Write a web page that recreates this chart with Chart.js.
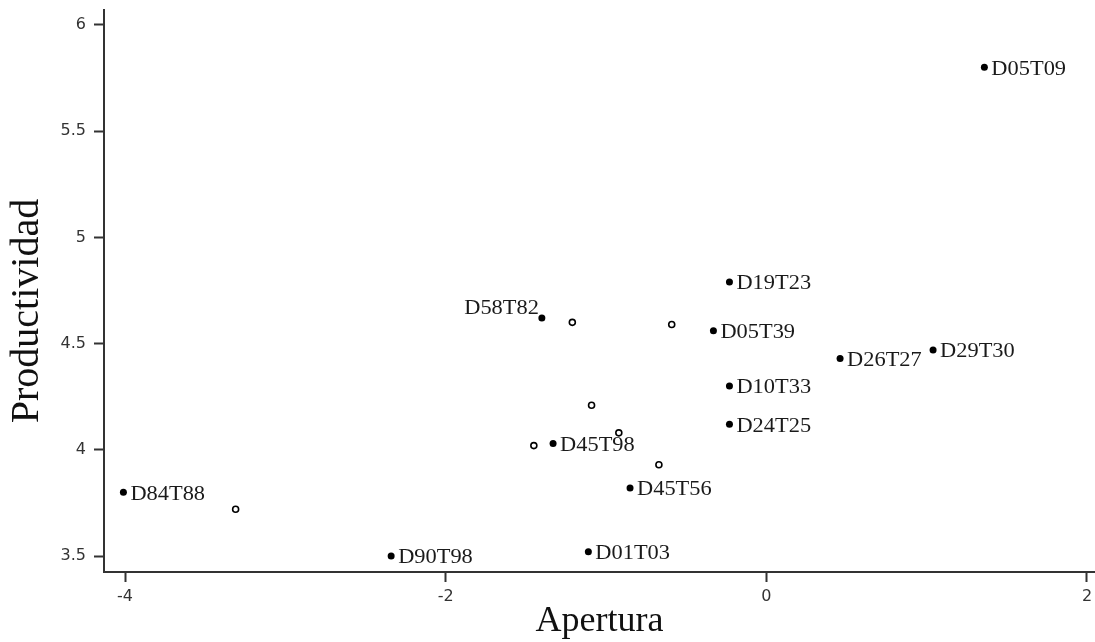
<!DOCTYPE html>
<html lang="es">
<head>
  <meta charset="UTF-8" />
  <title>Productividad vs Apertura</title>
  <script src="https://cdn.jsdelivr.net/npm/chart.js"></script>
  <style>
    html, body { margin: 0; padding: 0; background: #fff; }
    canvas { display: block; }
  </style>
</head>
<body>
  <canvas id="chart" width="1095" height="642"></canvas>

  <script>
    // labelled districts (filled dots)
    const labeledNames = ['D05T09', 'D19T23', 'D58T82', 'D05T39', 'D29T30', 'D26T27', 'D10T33', 'D24T25', 'D45T98', 'D45T56', 'D84T88', 'D01T03', 'D90T98']
    const labeledX = [1.36, -0.23, -1.40, -0.33, 1.04, 0.46, -0.23, -0.23, -1.33, -0.85, -4.01, -1.11, -2.34]
    const labeledY = [5.80, 4.79, 4.62, 4.56, 4.47, 4.43, 4.30, 4.12, 4.03, 3.82, 3.80, 3.52, 3.50]

    // unlabelled districts (hollow circles)
    const otherX = [-1.21, -0.59, -1.09, -0.92, -1.45, -0.67, -3.31]
    const otherY = [4.60, 4.59, 4.21, 4.08, 4.02, 3.93, 3.72]

    const xTicks = [-4, -2, 0, 2]
    const yTicks = [3.5, 4, 4.5, 5, 5.5, 6]

    const xTitle = 'Apertura'
    const yTitle = 'Productividad'

    // labels drawn on the left/top of their marker instead of the right
    const leftLabels = ['D58T82']

    const tickFont = { family: '"DejaVu Sans", Verdana, sans-serif', size: 16 }
    const serif = '"Liberation Serif", "Times New Roman", serif'

    const pointLabels = {
      id: 'pointLabels',
      afterDatasetsDraw(chart) {
        const ctx = chart.ctx
        const meta = chart.getDatasetMeta(0)
        const stretch = 1.12
        ctx.save()
        ctx.font = '20px ' + serif
        ctx.fillStyle = '#1a1a1a'
        ctx.textBaseline = 'middle'
        meta.data.forEach((pt, i) => {
          const name = labeledNames[i]
          ctx.save()
          ctx.translate(pt.x, pt.y)
          ctx.scale(stretch, 1)
          if (leftLabels.includes(name)) {
            ctx.textAlign = 'right'
            ctx.fillText(name, -3 / stretch, -9)
          } else {
            ctx.textAlign = 'left'
            ctx.fillText(name, 7 / stretch, 2)
          }
          ctx.restore()
        })

        // y axis title, sits a bit below the middle of the plot like the original
        ctx.font = '40px ' + serif
        ctx.fillStyle = '#111'
        ctx.textAlign = 'center'
        ctx.translate(27, 311)
        ctx.rotate(-Math.PI / 2)
        ctx.fillText(yTitle, 0, 0)
        ctx.restore()
      }
    }

    const noPad = s => { s.paddingLeft = 0; s.paddingRight = 0; s.paddingTop = 0; s.paddingBottom = 0 }

    new Chart(document.getElementById('chart'), {
      type: 'scatter',
      data: {
        datasets: [
          {
            label: 'Etiquetados',
            data: labeledX.map((x, i) => ({ x: x, y: labeledY[i] })),
            pointRadius: 3.5,
            pointBackgroundColor: '#000',
            pointBorderColor: '#000',
            pointBorderWidth: 0
          },
          {
            label: 'Otros',
            data: otherX.map((x, i) => ({ x: x, y: otherY[i] })),
            pointRadius: 3,
            pointBackgroundColor: '#fff',
            pointBorderColor: '#000',
            pointBorderWidth: 1.6
          }
        ]
      },
      options: {
        responsive: false,
        animation: false,
        layout: { autoPadding: false, padding: { top: 10, right: 0, bottom: 0, left: 0 } },
        plugins: {
          legend: { display: false },
          tooltip: { enabled: false }
        },
        scales: {
          x: {
            type: 'linear',
            min: -4.131,
            max: 2.05,
            afterBuildTicks: s => { s.ticks = xTicks.map(v => ({ value: v })) },
            afterFit: s => { s.height = 70; noPad(s) },
            grid: { drawOnChartArea: false, tickLength: 10, tickColor: '#333', tickWidth: 2 },
            border: { color: '#333', width: 2 },
            ticks: { font: tickFont, color: '#333', padding: 5, maxRotation: 0, autoSkip: false, callback: v => String(v) },
            title: {
              display: true,
              text: xTitle,
              color: '#111',
              font: { family: serif, size: 36, lineHeight: 1 },
              padding: { top: 0, bottom: 2 }
            }
          },
          y: {
            type: 'linear',
            min: 3.425,
            max: 6.07,
            afterBuildTicks: s => { s.ticks = yTicks.map(v => ({ value: v })) },
            afterFit: s => { s.width = 104; noPad(s) },
            grid: { drawOnChartArea: false, tickLength: 10, tickColor: '#333', tickWidth: 2 },
            border: { color: '#333', width: 2 },
            ticks: { font: tickFont, color: '#333', padding: 8, autoSkip: false, callback: v => String(v) }
          }
        }
      },
      plugins: [pointLabels]
    })
  </script>
</body>
</html>
